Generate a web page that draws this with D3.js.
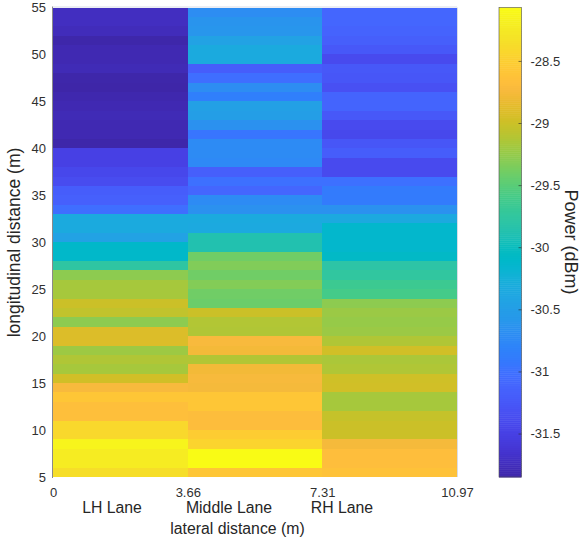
<!DOCTYPE html>
<html>
<head>
<meta charset="utf-8">
<script src="https://cdn.jsdelivr.net/npm/d3@7"></script>
<style>
  html, body { margin: 0; padding: 0; background: #ffffff; }
  svg { display: block; }
  text { font-family: "Liberation Sans", Arial, Helvetica, sans-serif; fill: #262626; }
</style>
</head>
<body>
<svg id="chart" width="582" height="544"></svg>
<script>
// ---------------- data ----------------
// lane boundaries (lateral distance, m)
const laneEdges = [0, 3.66, 7.31, 10.97];
const laneNames = ["LH Lane", "Middle Lane", "RH Lane"];
const xTickValues = [0, 3.66, 7.31, 10.97];
const xTickLabels = ["0", "3.66", "7.31", "10.97"];
const yTickValues = [5, 10, 15, 20, 25, 30, 35, 40, 45, 50, 55];
const cbTickValues = [-31.5, -31, -30.5, -30, -29.5, -29, -28.5];
const cbTickLabels = ["-31.5", "-31", "-30.5", "-30", "-29.5", "-29", "-28.5"];

// longitudinal row start (m), listed from the top row (54-55) down to the bottom row (5-6)
const rowStart = [54,53,52,51,50,49,48,47,46,45,44,43,42,41,40,39,38,37,36,35,34,33,32,31,30,
                  29,28,27,26,25,24,23,22,21,20,19,18,17,16,15,14,13,12,11,10,9,8,7,6,5];

// Power (dBm), same row order as rowStart
const powerLH = [-31.73,-31.73,-31.76,-31.84,-31.80,-31.80,-31.78,-31.84,-31.85,-31.82,
                 -31.80,-31.78,-31.80,-31.80,-31.84,-31.50,-31.50,-31.43,-31.38,-31.20,
                 -31.17,-31.02,-30.33,-30.33,-30.45,
                 -30.10,-30.10,-29.77,-29.28,-29.17,-29.17,-29.00,-29.05,-29.28,-28.91,
                 -28.91,-29.21,-29.13,-29.17,-28.97,-28.73,-28.58,-28.66,-28.66,-28.41,
                 -28.41,-28.14,-28.22,-28.22,-28.35];
const powerMiddle = [-30.70,-30.62,-30.60,-30.45,-30.33,-30.33,-31.20,-31.02,-30.70,-30.85,
                     -30.47,-30.50,-30.65,-30.95,-30.72,-30.72,-30.75,-31.18,-31.00,-31.10,
                     -30.72,-30.65,-30.33,-30.35,-29.88,
                     -29.88,-29.40,-29.33,-29.40,-29.32,-29.40,-29.42,-29.00,-29.12,-29.13,
                     -28.73,-28.76,-29.12,-28.77,-28.74,-28.75,-28.58,-28.58,-28.68,-28.68,
                     -28.52,-28.45,-28.07,-28.07,-28.58];
const powerRH = [-31.10,-31.10,-31.13,-31.18,-31.25,-31.40,-31.25,-31.27,-31.33,-31.12,
                 -31.12,-31.25,-31.40,-31.42,-31.27,-31.20,-31.40,-31.40,-31.00,-30.90,
                 -30.90,-30.65,-30.35,-30.13,-30.13,
                 -30.13,-30.08,-29.80,-29.75,-29.65,-29.60,-29.28,-29.22,-29.24,-29.22,
                 -29.13,-28.97,-29.15,-29.13,-28.98,-28.97,-29.17,-29.17,-29.03,-29.00,
                 -29.00,-28.75,-28.67,-28.67,-28.62];

// MATLAB parula colormap (64 entries)
const parula = [
[0.2422,0.1504,0.6603],[0.2504,0.1650,0.7076],[0.2578,0.1818,0.7511],[0.2647,0.1978,0.7952],
[0.2706,0.2147,0.8364],[0.2751,0.2342,0.8710],[0.2783,0.2559,0.8991],[0.2803,0.2782,0.9221],
[0.2813,0.3006,0.9414],[0.2810,0.3228,0.9579],[0.2795,0.3447,0.9717],[0.2760,0.3667,0.9829],
[0.2699,0.3892,0.9906],[0.2602,0.4123,0.9952],[0.2440,0.4358,0.9988],[0.2206,0.4603,0.9973],
[0.1963,0.4847,0.9892],[0.1834,0.5074,0.9798],[0.1786,0.5289,0.9682],[0.1764,0.5499,0.9520],
[0.1687,0.5703,0.9359],[0.1540,0.5902,0.9218],[0.1460,0.6091,0.9079],[0.1380,0.6276,0.8973],
[0.1248,0.6459,0.8883],[0.1113,0.6635,0.8763],[0.0952,0.6798,0.8598],[0.0689,0.6948,0.8394],
[0.0297,0.7082,0.8163],[0.0036,0.7203,0.7917],[0.0067,0.7312,0.7660],[0.0433,0.7411,0.7394],
[0.0964,0.7500,0.7120],[0.1408,0.7584,0.6842],[0.1717,0.7670,0.6554],[0.1938,0.7758,0.6251],
[0.2161,0.7843,0.5923],[0.2470,0.7918,0.5567],[0.2906,0.7973,0.5188],[0.3406,0.8008,0.4789],
[0.3909,0.8029,0.4354],[0.4456,0.8024,0.3909],[0.5044,0.7993,0.3480],[0.5616,0.7942,0.3045],
[0.6174,0.7876,0.2612],[0.6720,0.7793,0.2227],[0.7242,0.7698,0.1910],[0.7738,0.7598,0.1646],
[0.8203,0.7498,0.1535],[0.8634,0.7406,0.1596],[0.9035,0.7330,0.1774],[0.9393,0.7288,0.2100],
[0.9728,0.7298,0.2394],[0.9956,0.7434,0.2371],[0.9970,0.7659,0.2199],[0.9952,0.7893,0.2028],
[0.9892,0.8136,0.1885],[0.9786,0.8386,0.1766],[0.9676,0.8639,0.1643],[0.9610,0.8890,0.1537],
[0.9597,0.9135,0.1423],[0.9628,0.9373,0.1265],[0.9691,0.9606,0.1064],[0.9769,0.9839,0.0805]];

// ---------------- layout ----------------
const plot = { left: 53, right: 457, top: 7.5, bottom: 477 };
const cbar = { left: 499, right: 521.5, top: 7.5, bottom: 477 };

const svg = d3.select("#chart");

const lanes = [powerLH, powerMiddle, powerRH];
const allValues = [].concat(...lanes);
const cExtent = d3.extent(allValues);

const x = d3.scaleLinear().domain([laneEdges[0], laneEdges[laneEdges.length - 1]]).range([plot.left, plot.right]);
const y = d3.scaleLinear().domain([5, 55]).range([plot.bottom, plot.top]);

const parulaColors = parula.map(c => d3.rgb(c[0] * 255, c[1] * 255, c[2] * 255).formatHex());
const color = d3.scaleSequential(d3.piecewise(d3.interpolateRgb, parulaColors)).domain(cExtent);

// ---------------- heatmap cells ----------------
const cells = [];
lanes.forEach((vals, li) => {
  vals.forEach((v, ri) => {
    cells.push({ x0: laneEdges[li], x1: laneEdges[li + 1], y0: rowStart[ri], y1: rowStart[ri] + 1, v });
  });
});

svg.append("g").attr("class", "cells")
  .selectAll("rect").data(cells).join("rect")
  .attr("x", d => x(d.x0))
  .attr("y", d => y(d.y1))
  .attr("width", d => x(d.x1) - x(d.x0) + 0.4)
  .attr("height", d => y(d.y0) - y(d.y1) + 0.4)
  .attr("fill", d => color(d.v))
  .attr("shape-rendering", "crispEdges");

// box lines (faint top/right, gray left)
svg.append("line").attr("x1", plot.left).attr("x2", plot.right).attr("y1", plot.top - 0.5).attr("y2", plot.top - 0.5)
  .attr("stroke", "#d8dce8").attr("stroke-width", 1);
svg.append("line").attr("x1", plot.right + 0.5).attr("x2", plot.right + 0.5).attr("y1", plot.top).attr("y2", plot.bottom)
  .attr("stroke", "#d8dce8").attr("stroke-width", 1);
svg.append("line").attr("x1", plot.left - 0.5).attr("x2", plot.left - 0.5).attr("y1", plot.top - 1).attr("y2", plot.bottom + 1)
  .attr("stroke", "#8a8a8a").attr("stroke-width", 1);

// ---------------- axes ----------------
const xAxis = d3.axisBottom(x).tickValues(xTickValues).tickFormat((d, i) => xTickLabels[i]).tickSize(0).tickPadding(0);
const gx = svg.append("g").attr("transform", `translate(0,${plot.bottom})`).call(xAxis);
gx.select(".domain").remove();
gx.selectAll("text").attr("y", 20).attr("dy", null).style("font-size", "13px").style("fill", "#303030")
  .style("font-family", '"Liberation Sans", Arial, sans-serif');

const yAxis = d3.axisLeft(y).tickValues(yTickValues).tickFormat(d3.format("d")).tickSize(0).tickPadding(0);
const gy = svg.append("g").attr("transform", `translate(${plot.left},0)`).call(yAxis);
gy.select(".domain").remove();
gy.selectAll("text").attr("x", -7).attr("dy", "0.34em").style("font-size", "13px").style("fill", "#303030")
  .style("font-family", '"Liberation Sans", Arial, sans-serif');

// lane labels (second line under the x ticks)
const laneLabelX = [112, 229, 342];
svg.append("g").selectAll("text").data(laneNames).join("text")
  .attr("x", (d, i) => laneLabelX[i])
  .attr("y", 513)
  .attr("text-anchor", "middle")
  .style("font-size", "15.8px")
  .text(d => d);

// axis titles
svg.append("text").attr("x", 237.5).attr("y", 534).attr("text-anchor", "middle")
  .style("font-size", "15.8px").text("lateral distance (m)");

svg.append("text").attr("transform", "translate(20,242.5) rotate(-90)").attr("text-anchor", "middle")
  .style("font-size", "17.5px").text("longitudinal distance (m)");

// ---------------- colorbar ----------------
const cy = d3.scaleLinear().domain(cExtent).range([cbar.bottom, cbar.top]);
const nSteps = 240;
const steps = d3.range(nSteps).map(i => cExtent[0] + (cExtent[1] - cExtent[0]) * (i + 0.5) / nSteps);
const stepH = (cbar.bottom - cbar.top) / nSteps;
svg.append("g").selectAll("rect").data(steps).join("rect")
  .attr("x", cbar.left)
  .attr("y", d => cy(d) - stepH / 2)
  .attr("width", cbar.right - cbar.left)
  .attr("height", stepH + 0.5)
  .attr("fill", d => color(d));

svg.append("rect").attr("x", cbar.left).attr("y", cbar.top).attr("width", cbar.right - cbar.left)
  .attr("height", cbar.bottom - cbar.top).attr("fill", "none").attr("stroke", "#4d4d4d").attr("stroke-width", 0.6);

const cAxis = d3.axisRight(cy).tickValues(cbTickValues).tickFormat((d, i) => cbTickLabels[i]).tickSizeInner(-3).tickSizeOuter(0).tickPadding(9);
const gc = svg.append("g").attr("transform", `translate(${cbar.right},0)`).call(cAxis);
gc.select(".domain").remove();
gc.selectAll(".tick line").attr("stroke", "#262626").attr("stroke-width", 0.6);
gc.selectAll("text").style("font-size", "13px").style("fill", "#303030")
  .style("font-family", '"Liberation Sans", Arial, sans-serif');

svg.append("text").attr("transform", "translate(565,242) rotate(90)").attr("text-anchor", "middle")
  .style("font-size", "18px").text("Power (dBm)");
</script>
</body>
</html>
